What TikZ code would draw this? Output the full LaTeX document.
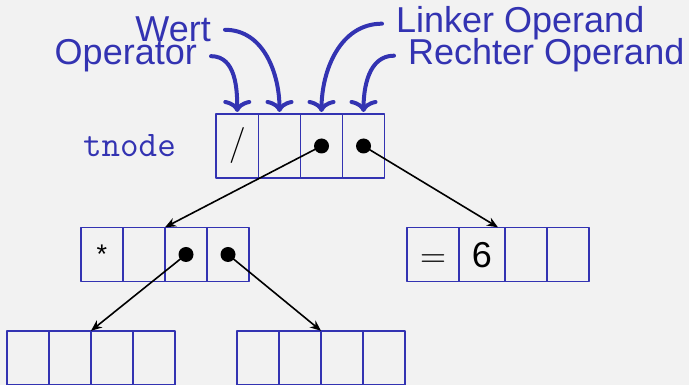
\documentclass[tikz,border=0pt]{standalone}
\usepackage{fontspec}
\setmainfont{Liberation Sans}
\newfontfamily\cmfont{Latin Modern Roman}
\usetikzlibrary{positioning,fit,arrows.meta}
\definecolor{structblue}{rgb}{0.2,0.2,0.7}
\definecolor{slidebg}{gray}{0.95}

\begin{document}
\begin{tikzpicture}[x=1pt, y=1pt, line cap=round, line join=round,
    cell/.style={draw=structblue, line width=1.9pt, minimum width=42pt,
      inner xsep=13pt, inner ysep=14pt, outer sep=0pt,
      text height=26pt, text depth=0pt, font=\fontsize{36}{40}\selectfont},
    topcell/.style={cell, text height=27pt, text depth=9pt},
    lbl/.style={text=structblue, inner xsep=14pt, inner ysep=0pt,
      font=\fontsize{36}{40}\selectfont},
    fieldarrow/.style={-{Computer Modern Rightarrow[length=12pt,width=28pt]},
      structblue, line width=4pt, shorten >=2pt},
    pointer/.style={-{Stealth[length=11pt,width=9pt]}, line width=1.6pt},
    dot/.style={circle, fill=black, inner sep=0pt, minimum size=15pt}]

    % slide area
    \useasboundingbox (0,0) rectangle (689,385);
    \fill[slidebg] (0,0) rectangle (689,385);
    \clip (0,0) rectangle (689,385);

    % root record
    \node[topcell, anchor=west] (t1) at (216,239) {\cmfont /};
    \node[topcell, right=0pt of t1] (t2) {};
    \node[topcell, right=0pt of t2] (t3) {};
    \node[topcell, right=0pt of t3] (t4) {};
    \node[lbl, inner xsep=0pt, font=\fontsize{36}{40}\selectfont\ttfamily,
      anchor=base east] (tname) at (176,228) {tnode};

    % field names
    \node[lbl, anchor=base east] (wert) at (225,343) {Wert};
    \node[lbl, anchor=base east] (operator) at (211,320) {Operator};
    \node[lbl, anchor=base west] (linker) at (382,352) {Linker Operand};
    \node[lbl, anchor=base west] (rechter) at (394,320) {Rechter Operand};

    \draw[fieldarrow] (operator.east) to[out=0, in=90] (t1.north);
    \draw[fieldarrow] (wert.east) to[out=0, in=90] (t2.north);
    \draw[fieldarrow] (linker.west) to[out=180, in=90] (t3.north);
    \draw[fieldarrow] (rechter.west) to[out=180, in=90] (t4.north);

    % left child
    \node[cell, anchor=west] (m1) at (81,130.5)
      {\raisebox{4pt}{\fontsize{27}{30}\selectfont *}};
    \node[cell, right=0pt of m1] (m2) {};
    \node[cell, right=0pt of m2] (m3) {};
    \node[cell, right=0pt of m3] (m4) {};
    \node[fit=(m1)(m4), inner sep=0pt] (mrec) {};

    % right child
    \node[cell, anchor=west] (r1) at (407,130.5) {\cmfont =};
    \node[cell, right=0pt of r1] (r2) {6};
    \node[cell, right=0pt of r2] (r3) {};
    \node[cell, right=0pt of r3] (r4) {};
    \node[fit=(r1)(r4), inner sep=0pt] (rrec) {};

    % grandchildren
    \node[cell, anchor=west] (b1) at (7,27) {};
    \node[cell, right=0pt of b1] (b2) {};
    \node[cell, right=0pt of b2] (b3) {};
    \node[cell, right=0pt of b3] (b4) {};
    \node[fit=(b1)(b4), inner sep=0pt] (brec) {};

    \node[cell, anchor=west] (c1) at (237,27) {};
    \node[cell, right=0pt of c1] (c2) {};
    \node[cell, right=0pt of c2] (c3) {};
    \node[cell, right=0pt of c3] (c4) {};
    \node[fit=(c1)(c4), inner sep=0pt] (crec) {};

    % pointers
    \node[dot] (p3) at (t3) {};
    \node[dot] (p4) at (t4) {};
    \node[dot] (q3) at (m3) {};
    \node[dot] (q4) at (m4) {};

    \draw[pointer] (p3.center) -- (mrec.north);
    \draw[pointer] (p4.center) -- (rrec.north);
    \draw[pointer] (q3.center) -- (brec.north);
    \draw[pointer] (q4.center) -- (crec.north);
  \end{tikzpicture}
\end{document}
